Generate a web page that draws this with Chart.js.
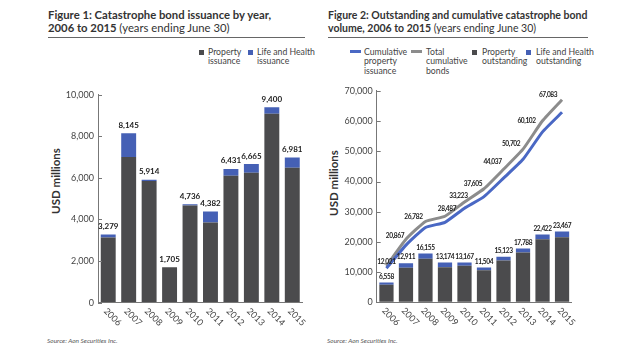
<!DOCTYPE html>
<html><head><meta charset="utf-8">
<script src="https://cdn.jsdelivr.net/npm/chart.js@4"></script>
<style>
body{margin:0;width:638px;height:356px;background:#fff;position:relative;overflow:hidden;font-family:Lato,"Open Sans",sans-serif;color:#333}
.t{position:absolute;font-size:10.5px;line-height:12.5px;font-weight:bold;color:#333;white-space:nowrap}
.t span{font-weight:normal}
.rule{position:absolute;height:0;border-top:1px solid #666}
.lg{position:absolute;font-size:8.7px;line-height:9.3px;color:#444;white-space:nowrap}
.sw{position:absolute}
.yt{position:absolute;width:80px;height:14px;line-height:14px;text-align:center;font-weight:bold;font-size:11.5px;color:#333;transform:rotate(-90deg);white-space:nowrap}
.src{position:absolute;font-style:italic;font-size:6.5px;color:#555;white-space:nowrap}
canvas{position:absolute;top:0}
</style></head>
<body>
<div class="t" style="left:48px;top:9px;font-size:11.3px">Figure 1: Catastrophe bond issuance by year,<br>2006 to 2015 <span>(years ending June 30)</span></div>
<div class="rule" style="left:48px;top:37px;width:257px"></div>
<div class="sw" style="left:199px;top:50px;width:5px;height:5px;background:#4b4b4d"></div>
<div class="lg" style="left:208px;top:47px">Property<br>issuance</div>
<div class="sw" style="left:248px;top:50px;width:5px;height:5px;background:#4560b5"></div>
<div class="lg" style="left:257px;top:47px">Life and Health<br>issuance</div>
<div class="yt" style="left:16px;top:174px">USD millions</div>
<div class="src" style="left:47px;top:337px">Source: Aon Securities Inc.</div>

<div class="t" style="left:328px;top:9px">Figure 2: Outstanding and cumulative catastrophe bond<br>volume, 2006 to 2015 <span>(years ending June 30)</span></div>
<div class="rule" style="left:328px;top:37px;width:260px"></div>
<div class="sw" style="left:350px;top:50px;width:11px;height:3px;background:#4a68c4"></div>
<div class="lg" style="left:364px;top:47px">Cumulative<br>property<br>issuance</div>
<div class="sw" style="left:411px;top:50px;width:11px;height:3px;background:#8c8c8c"></div>
<div class="lg" style="left:426px;top:47px">Total<br>cumulative<br>bonds</div>
<div class="sw" style="left:472px;top:50px;width:5px;height:5px;background:#4b4b4d"></div>
<div class="lg" style="left:482px;top:47px">Property<br>outstanding</div>
<div class="sw" style="left:526px;top:50px;width:5px;height:5px;background:#4560b5"></div>
<div class="lg" style="left:536px;top:47px">Life and Health<br>outstanding</div>
<div class="yt" style="left:294px;top:176px">USD millions</div>
<div class="src" style="left:327px;top:337px">Source: Aon Securities Inc.</div>

<canvas id="c1" width="319" height="356" style="left:0"></canvas>
<canvas id="c2" width="319" height="356" style="left:319px"></canvas>
<script>
// ---- data ----
const years = ['2006','2007','2008','2009','2010','2011','2012','2013','2014','2015'];
// Figure 1
const propertyIssuance = [3129, 7000, 5854, 1705, 4666, 3850, 6100, 6250, 9080, 6481];
const lifeHealthIssuance = [150, 1145, 60, 0, 70, 532, 331, 415, 320, 500];
const totalIssuance = [3279, 8145, 5914, 1705, 4736, 4382, 6431, 6665, 9400, 6981];
const fig1Ticks = [0, 2000, 4000, 6000, 8000, 10000];
// Figure 2
const propertyOutstanding = [5800, 11480, 14390, 11620, 12070, 10600, 13820, 16490, 20870, 21570];
const lifeHealthOutstanding = [758, 1431, 1765, 1554, 1097, 904, 1303, 1298, 1552, 1897];
const totalOutstanding = [6558, 12911, 16155, 13174, 13167, 11504, 15123, 17788, 22422, 23467];
const cumulativeProperty = [11270, 18920, 24780, 26490, 31150, 35000, 41100, 47350, 56430, 62910];
const cumulativeTotal = [12021, 20867, 26782, 28487, 33223, 37605, 44037, 50702, 60102, 67083];
const fig2Ticks = [0, 10000, 20000, 30000, 40000, 50000, 60000, 70000];

const DARK = '#4b4b4d', BLUE = '#4560b5', LINEBLUE = '#4a68c4', GRAY = '#8c8c8c';
const fmt = v => String(v).replace(/\B(?=(\d{3})+(?!\d))/g, ',');

const deco = {
  id: 'deco',
  afterDatasetsDraw(chart, args, opts) {
    const ctx = chart.ctx, xs = chart.scales.x, ys = chart.scales.y, ca = chart.chartArea;
    ctx.save();
    // inward tick marks on y axis
    ctx.strokeStyle = '#777'; ctx.lineWidth = 1;
    ys.ticks.forEach(t => {
      const py = Math.round(ys.getPixelForValue(t.value)) + 0.5;
      ctx.beginPath(); ctx.moveTo(ca.left, py); ctx.lineTo(ca.left + 4, py); ctx.stroke();
    });
    // value labels
    (opts.sets || []).forEach(s => {
      ctx.font = s.font; ctx.fillStyle = s.color; ctx.textAlign = 'center'; ctx.textBaseline = 'middle';
      if ('letterSpacing' in ctx) ctx.letterSpacing = s.ls || '0px';
      s.values.forEach((v, i) => {
        const px = xs.getPixelForValue(i) + (s.dx ? s.dx[i] : 0);
        const py = ys.getPixelForValue(v) + (s.dy ? s.dy[i] : s.off);
        ctx.fillText(fmt(v), px, py);
      });
    });
    if ('letterSpacing' in ctx) ctx.letterSpacing = '0px';
    // rotated category labels
    ctx.font = opts.xfont; ctx.fillStyle = '#444'; ctx.textAlign = 'left'; ctx.textBaseline = 'middle';
    chart.data.labels.forEach((l, i) => {
      ctx.save();
      ctx.translate(xs.getPixelForValue(i) - 3, ca.bottom + 7);
      ctx.rotate(Math.PI / 4);
      ctx.fillText(l, 0, 0);
      ctx.restore();
    });
    ctx.restore();
  }
};

function scales(max, step, yw) {
  return {
    x: { stacked: true, grid: { drawOnChartArea: false, drawTicks: false }, border: { display: true, color: '#777' },
         ticks: { display: false }, afterFit: s => { s.height = 30; } },
    y: { stacked: true, min: 0, max: max, grid: { drawOnChartArea: false, drawTicks: false },
         border: { display: true, color: '#777' },
         ticks: { stepSize: step, padding: 4, color: '#444', font: { family: 'Lato', size: 9 }, callback: v => fmt(v) },
         afterFit: s => { s.width = yw; } }
  };
}

new Chart(document.getElementById('c1'), {
  type: 'bar',
  data: {
    labels: years,
    datasets: [
      { label: 'Property issuance', data: propertyIssuance, backgroundColor: DARK, stack: 's', categoryPercentage: 1, barPercentage: 0.73 },
      { label: 'Life and Health issuance', data: lifeHealthIssuance, backgroundColor: BLUE, stack: 's', categoryPercentage: 1, barPercentage: 0.73 }
    ]
  },
  options: {
    responsive: false, animation: false,
    layout: { padding: { left: 58, right: 16.5, top: 94.7, bottom: 23.4 } },
    plugins: { legend: { display: false }, tooltip: { enabled: false },
      deco: { xfont: '9px Lato', sets: [ { values: totalIssuance, off: -8, font: 'bold 8px Lato', color: '#222' } ] } },
    scales: scales(fig1Ticks[fig1Ticks.length - 1], fig1Ticks[1] - fig1Ticks[0], 40)
  },
  plugins: [deco]
});

new Chart(document.getElementById('c2'), {
  type: 'bar',
  data: {
    labels: years,
    datasets: [
      { type: 'line', label: 'Cumulative property issuance', data: cumulativeProperty, borderColor: LINEBLUE, borderWidth: 3, pointRadius: 0, tension: 0.15, stack: 'l1', order: 0, fill: false },
      { type: 'line', label: 'Total cumulative bonds', data: cumulativeTotal, borderColor: GRAY, borderWidth: 3, pointRadius: 0, tension: 0.15, stack: 'l2', order: 0, fill: false },
      { label: 'Property outstanding', data: propertyOutstanding, backgroundColor: DARK, stack: 'b', order: 1, categoryPercentage: 1, barPercentage: 0.73 },
      { label: 'Life and Health outstanding', data: lifeHealthOutstanding, backgroundColor: BLUE, stack: 'b', order: 1, categoryPercentage: 1, barPercentage: 0.73 }
    ]
  },
  options: {
    responsive: false, animation: false,
    layout: { padding: { left: 17.7, right: 66.2, top: 90.9, bottom: 23.7 } },
    plugins: { legend: { display: false }, tooltip: { enabled: false },
      deco: { xfont: '9px Lato', sets: [
        { values: totalOutstanding, off: -6, font: 'bold 6.6px Lato', color: '#222', ls: '-0.4px' },
        { values: cumulativeTotal, font: 'bold 6.6px Lato', color: '#222', ls: '-0.4px',
          dx: [0, -11, -12, 2, -6, -11, -11, -12, -16, -14],
          dy: [-4, -3, -5, -7, -6, -5, -7, -5, 0, -5] }
      ] } },
    scales: scales(fig2Ticks[fig2Ticks.length - 1], fig2Ticks[1] - fig2Ticks[0], 40)
  },
  plugins: [deco]
});
</script>
</body></html>
